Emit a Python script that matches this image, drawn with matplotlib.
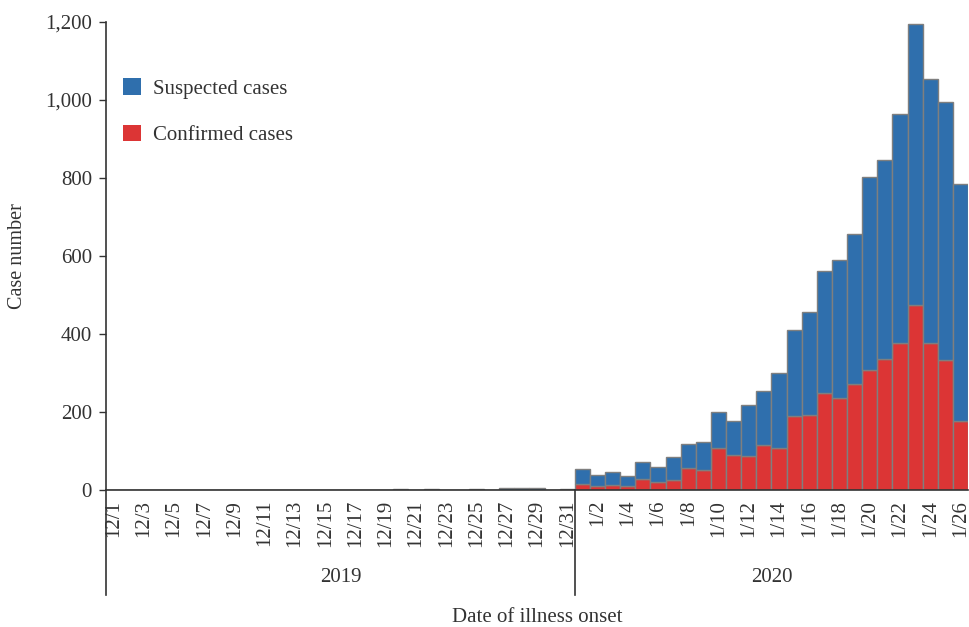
import matplotlib

matplotlib.use("Agg")
import matplotlib.pyplot as plt
import matplotlib.transforms as mtransforms
from matplotlib.patches import Patch
from matplotlib.ticker import FuncFormatter

plt.rcParams["font.family"] = ["Liberation Serif", "DejaVu Serif"]

# Dates of illness onset: 12/1/2019 .. 12/31/2019 then 1/1/2020 .. 1/26/2020
dec_days = list(range(1, 32))
jan_days = list(range(1, 27))
dates = [f"12/{d}" for d in dec_days] + [f"1/{d}" for d in jan_days]

# confirmed cases per day
confirmed = (
    [0] * 31
    + [15, 11, 14, 11, 28, 21, 25, 56, 51, 107, 91, 87, 115, 107, 190, 192,
       248, 235, 272, 308, 337, 378, 474, 378, 333, 177]
)
# total (suspected + confirmed) per day
total = (
    [0] * 19 + [3, 0, 3, 0, 1, 2, 0, 6, 4, 4, 0, 3]
    + [53, 38, 45, 35, 72, 58, 85, 118, 124, 200, 177, 217, 254, 299, 410, 457,
       561, 590, 656, 803, 846, 964, 1195, 1053, 995, 784]
)
suspected = [t - c for t, c in zip(total, confirmed)]

blue = "#2f6fad"
red = "#dc3535"
edge = "#7f7f7f"
ink = "#333333"
fs = 15

fig = plt.figure(figsize=(9.69, 6.27), dpi=100)
ax = fig.add_axes([106 / 969, 1 - 490 / 627, 862 / 969, 468 / 627])

x = list(range(len(dates)))
ax.bar(x, confirmed, width=1.0, color=red, edgecolor=edge, linewidth=1.0)
ax.bar(x, suspected, width=1.0, bottom=confirmed, color=blue, edgecolor=edge, linewidth=1.0)

ax.set_xlim(-0.5, len(dates) - 0.5)
ax.set_ylim(0, 1200)
ax.set_yticks(range(0, 1201, 200))
ax.yaxis.set_major_formatter(FuncFormatter(lambda v, _: f"{int(v):,}"))
ax.tick_params(axis="y", direction="out", length=5, width=1, colors=ink, labelsize=fs, pad=5)

label_idx = [i for i in range(31) if i % 2 == 0] + [i for i in range(31, len(dates)) if i % 2 == 0]
ax.set_xticks(label_idx)
ax.set_xticklabels([dates[i] for i in label_idx], rotation=90, fontsize=fs, color=ink)
ax.tick_params(axis="x", length=0, pad=7)

for side in ["top", "right"]:
    ax.spines[side].set_visible(False)
for side in ["left", "bottom"]:
    ax.spines[side].set_color(ink)
    ax.spines[side].set_linewidth(1.2)

# year separators below the axis
trans = mtransforms.blended_transform_factory(ax.transData, ax.transAxes)
low = -(595 - 490) / 468
for xpos in [-0.5, 30.5]:
    ax.plot([xpos, xpos], [0, low], transform=trans, color=ink, linewidth=1.2, clip_on=False)
year_y = -(578 - 490) / 468
ax.text(15, year_y, "2019", transform=trans, ha="center", va="center", fontsize=fs, color=ink)
ax.text(43.5, year_y, "2020", transform=trans, ha="center", va="center", fontsize=fs, color=ink)

ax.text(0.5, -(617 - 490) / 468, "Date of illness onset", transform=ax.transAxes,
        ha="center", va="center", fontsize=fs, color=ink)
fig.text(18 / 969, 1 - 256 / 627, "Case number", rotation=90, ha="center", va="center",
         fontsize=14.5, color=ink)

handles = [Patch(facecolor=blue, edgecolor="none"), Patch(facecolor=red, edgecolor="none")]
ax.legend(handles, ["Suspected cases", "Confirmed cases"], loc="upper left",
          bbox_to_anchor=((123 - 106) / 862, (490 - 78) / 468), frameon=False, fontsize=fs,
          handlelength=0.85, handleheight=0.85, handletextpad=0.6, labelspacing=1.25,
          borderpad=0, borderaxespad=0, labelcolor=ink)

fig.savefig("out.png", dpi=100)
